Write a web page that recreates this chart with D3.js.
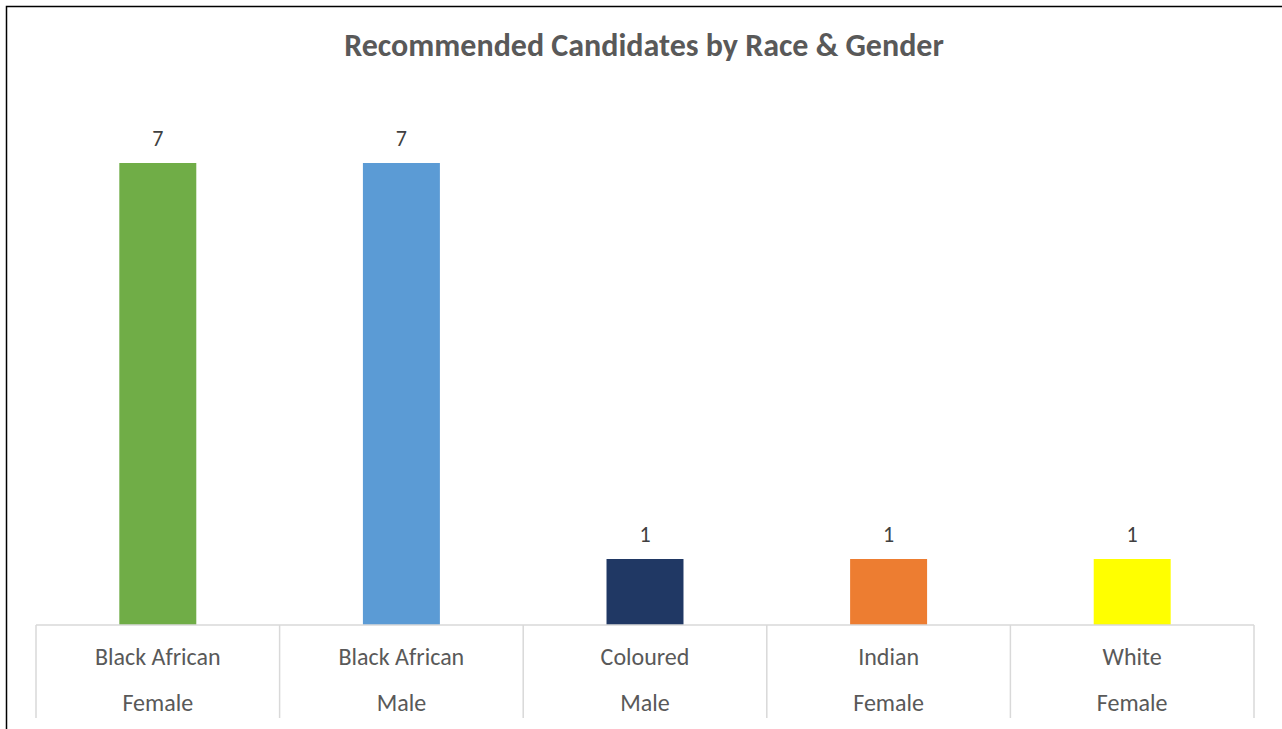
<!DOCTYPE html>
<html>
<head>
<meta charset="utf-8">
<script src="https://cdn.jsdelivr.net/npm/d3@7"></script>
<style>
  body { margin: 0; background: #fff; }
  svg { display: block; }
</style>
</head>
<body>
<svg width="1282" height="729"></svg>
<script>
var races = ["Black African", "Black African", "Coloured", "Indian", "White"]
var genders = ["Female", "Male", "Male", "Female", "Female"]
var counts = [7, 7, 1, 1, 1]
var barColors = ["#70AD47", "#5B9BD5", "#203864", "#ED7D31", "#FFFF00"]

var svg = d3.select("svg"),
    width = +svg.attr("width"),
    height = +svg.attr("height");

var font = "Carlito, 'Open Sans', 'Liberation Sans', sans-serif"

// chart frame (only top and left edges are in view)
svg.append("path")
    .attr("d", "M6.5,729 V6.5 H1282")
    .attr("fill", "none")
    .attr("stroke", "#000")
    .attr("stroke-width", 1.5)

svg.append("text")
    .attr("x", 644)
    .attr("y", 56)
    .attr("text-anchor", "middle")
    .style("font-family", font)
    .style("font-size", "32px")
    .style("font-weight", "bold")
    .style("fill", "#595959")
    .text("Recommended Candidates by Race & Gender")

var idx = d3.range(counts.length)

var x = d3.scaleBand()
    .domain(idx)
    .range([36, 1254])
    .padding(0)

var y = d3.scaleLinear()
    .domain([0, 8])
    .range([625, 97])

var barW = x.bandwidth() * 0.316

// bars
svg.append("g")
    .selectAll("rect")
    .data(idx)
    .enter().append("rect")
    .attr("x", function (i) { return x(i) + (x.bandwidth() - barW) / 2 })
    .attr("y", function (i) { return y(counts[i]) })
    .attr("width", barW)
    .attr("height", function (i) { return y(0) - y(counts[i]) })
    .attr("fill", function (i) { return barColors[i] })

// value labels
svg.append("g")
    .selectAll("text")
    .data(idx)
    .enter().append("text")
    .attr("x", function (i) { return x(i) + x.bandwidth() / 2 })
    .attr("y", function (i) { return y(counts[i]) - 17 })
    .attr("text-anchor", "middle")
    .style("font-family", font)
    .style("font-size", "22px")
    .style("fill", "#404040")
    .text(function (i) { return counts[i] })

// category axis: baseline + separators
var axis = svg.append("g").attr("stroke", "#D9D9D9").attr("stroke-width", 1.5)
axis.append("line")
    .attr("x1", 36).attr("x2", 1254)
    .attr("y1", y(0)).attr("y2", y(0))
axis.selectAll("line.sep")
    .data(idx.concat([counts.length]))
    .enter().append("line")
    .attr("class", "sep")
    .attr("x1", function (i) { return i < counts.length ? x(i) : x.range()[1] })
    .attr("x2", function (i) { return i < counts.length ? x(i) : x.range()[1] })
    .attr("y1", y(0)).attr("y2", 718)

var cats = svg.append("g")
    .style("font-family", font)
    .style("font-size", "24px")
    .style("fill", "#595959")
    .attr("text-anchor", "middle")

cats.selectAll("text.race")
    .data(idx)
    .enter().append("text")
    .attr("class", "race")
    .attr("x", function (i) { return x(i) + x.bandwidth() / 2 })
    .attr("y", 665)
    .text(function (i) { return races[i] })

cats.selectAll("text.gender")
    .data(idx)
    .enter().append("text")
    .attr("class", "gender")
    .attr("x", function (i) { return x(i) + x.bandwidth() / 2 })
    .attr("y", 711)
    .text(function (i) { return genders[i] })
</script>
</body>
</html>
